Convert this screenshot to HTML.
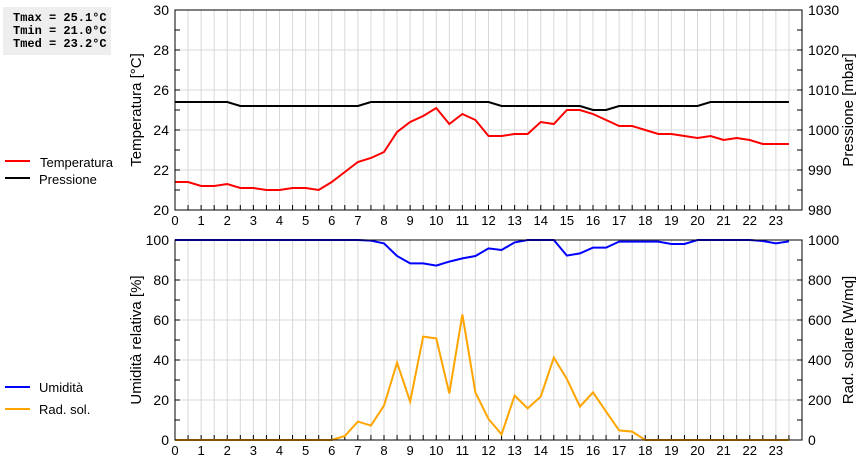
<!DOCTYPE html>
<html><head><meta charset="utf-8"><style>
body{margin:0;background:#fff;width:860px;height:460px;overflow:hidden}
svg{display:block;font-family:"Liberation Sans",sans-serif}
</style></head><body>
<svg id="c" width="860" height="460">
  <rect x="3" y="7" width="108" height="48" fill="#eeeeee"/>
  <text x="13" y="21" font-family="Liberation Mono,monospace" font-weight="bold" font-size="12">Tmax = 25.1°C</text>
  <text x="13" y="34" font-family="Liberation Mono,monospace" font-weight="bold" font-size="12">Tmin = 21.0°C</text>
  <text x="13" y="47" font-family="Liberation Mono,monospace" font-weight="bold" font-size="12">Tmed = 23.2°C</text>
  <g>
    <line x1="5" y1="161" x2="30" y2="161" stroke="#f00" stroke-width="2"/>
    <text x="40" y="167" font-size="13">Temperatura</text>
    <line x1="5" y1="178" x2="30" y2="178" stroke="#000" stroke-width="2"/>
    <text x="39" y="184" font-size="13">Pressione</text>
  </g>
  <g>
    <line x1="5" y1="387" x2="30" y2="387" stroke="#00f" stroke-width="2"/>
    <text x="39" y="392" font-size="13">Umidità</text>
    <line x1="5" y1="409" x2="30" y2="409" stroke="#ffa500" stroke-width="2"/>
    <text x="39" y="414" font-size="13">Rad. sol.</text>
  </g>
</svg>
<script>
const hours=[];for(let i=0;i<48;i++)hours.push(i*0.5);
const temperature=[21.4,21.4,21.2,21.2,21.3,21.1,21.1,21.0,21.0,21.1,21.1,21.0,21.4,21.9,22.4,22.6,22.9,23.9,24.4,24.7,25.1,24.3,24.8,24.5,23.7,23.7,23.8,23.8,24.4,24.3,25.0,25.0,24.8,24.5,24.2,24.2,24.0,23.8,23.8,23.7,23.6,23.7,23.5,23.6,23.5,23.3,23.3,23.3];
const pressure=[1007,1007,1007,1007,1007,1006,1006,1006,1006,1006,1006,1006,1006,1006,1006,1007,1007,1007,1007,1007,1007,1007,1007,1007,1007,1006,1006,1006,1006,1006,1006,1006,1005,1005,1006,1006,1006,1006,1006,1006,1006,1007,1007,1007,1007,1007,1007,1007];
const humidity=[100,100,100,100,100,100,100,100,100,100,100,100,100,100,100,99.7,98.3,92,88.3,88.3,87.2,89.2,90.8,92,95.8,95,98.8,100,100,100,92.2,93.3,96.2,96.2,99.2,99.2,99.2,99.2,98,98,100,100,100,100,100,99.5,98.3,99.3];
const radiation=[0,0,0,0,0,0,0,0,0,0,0,0,0,20,92,72,172,387,192,517,508,233,628,237,105,28,222,158,217,412,305,167,238,142,48,42,0,0,0,0,0,0,0,0,0,0,0,0];
const tempTicks=[20,22,24,26,28,30];
const presTicks=[980,990,1000,1010,1020,1030];
const humTicks=[0,20,40,60,80,100];
const radTicks=[0,200,400,600,800,1000];
const hourLabels=[];for(let h=0;h<24;h++)hourLabels.push(String(h));

const svg=document.getElementById('c');const NS='http://www.w3.org/2000/svg';
function el(t,a,p){const e=document.createElementNS(NS,t);for(const k in a)e.setAttribute(k,a[k]);(p||svg).appendChild(e);return e;}
const X0=175,X1=802;
const xs=h=>X0+(X1-X0)*h/24;
function panel(top,bot,lmin,lmax,rmin,rmax,lt,rt,lTitle,rTitle,name){
  const g=el('g',{});
  
  
  const yl=v=>bot-(bot-top)*(v-lmin)/(lmax-lmin);
  const yr=v=>bot-(bot-top)*(v-rmin)/(rmax-rmin);
  for(let i=1;i<48;i++){const l=el('line',{x1:xs(i/2),x2:xs(i/2),y1:top,y2:bot,stroke:'#d8d8d8'},g);}
  lt.forEach(v=>{if(v>lmin&&v<lmax){const l=el('line',{x1:X0,x2:X1,y1:yl(v),y2:yl(v),stroke:'#d8d8d8'},g);}});
  const step=(lt[1]-lt[0])/2;
  for(let v=lmin;v<=lmax+1e-9;v+=step){el('line',{x1:X0,x2:X0+5,y1:yl(v),y2:yl(v),stroke:'#000'},g);}
  const rstep=(rt[1]-rt[0])/2;
  for(let v=rmin;v<=rmax+1e-9;v+=rstep){el('line',{x1:X1-5,x2:X1,y1:yr(v),y2:yr(v),stroke:'#000'},g);}
  for(let i=0;i<=48;i++){el('line',{x1:xs(i/2),x2:xs(i/2),y1:bot-5,y2:bot,stroke:'#000'},g);}
  lt.forEach(v=>{const t=el('text',{x:X0-6,y:yl(v)+5,'text-anchor':'end','font-size':14},g);t.textContent=v;});
  rt.forEach(v=>{const t=el('text',{x:X1+6,y:yr(v)+5,'font-size':14},g);t.textContent=v;});
  hourLabels.forEach((s,i)=>{const t=el('text',{x:xs(i),y:bot+15,'text-anchor':'middle','font-size':13},g);t.textContent=s;});
  const lt1=el('text',{transform:`translate(141,${(top+bot)/2}) rotate(-90)`,'text-anchor':'middle','font-size':15},g);lt1.textContent=lTitle;
  
  const rt1=el('text',{transform:`translate(853,${(top+bot)/2}) rotate(-90)`,'text-anchor':'middle','font-size':15},g);rt1.textContent=rTitle;
  
  return {g,yl,yr};
}
function series(g,data,yf,color,name){
  const p=el('polyline',{points:data.map((v,i)=>xs(hours[i])+','+yf(v)).join(' '),fill:'none',stroke:color,'stroke-width':2},g);
  
  
}
const A=panel(10,210,20,30,980,1030,tempTicks,presTicks,'Temperatura [°C]','Pressione [mbar]','top-panel');
series(A.g,pressure,A.yr,'#000','pressure-line');
series(A.g,temperature,A.yl,'#f00','temperature-line');
el('rect',{x:X0,y:10,width:X1-X0,height:200,fill:'none',stroke:'#000'},A.g);
const B=panel(240,440,0,100,0,1000,humTicks,radTicks,'Umidità relativa [%]','Rad. solare [W/mq]','bottom-panel');
series(B.g,radiation,B.yr,'#ffa500','radiation-line');
series(B.g,humidity,B.yl,'#00f','humidity-line');
el('rect',{x:X0,y:240,width:X1-X0,height:200,fill:'none',stroke:'#000'},B.g);
</script>
</body></html>
